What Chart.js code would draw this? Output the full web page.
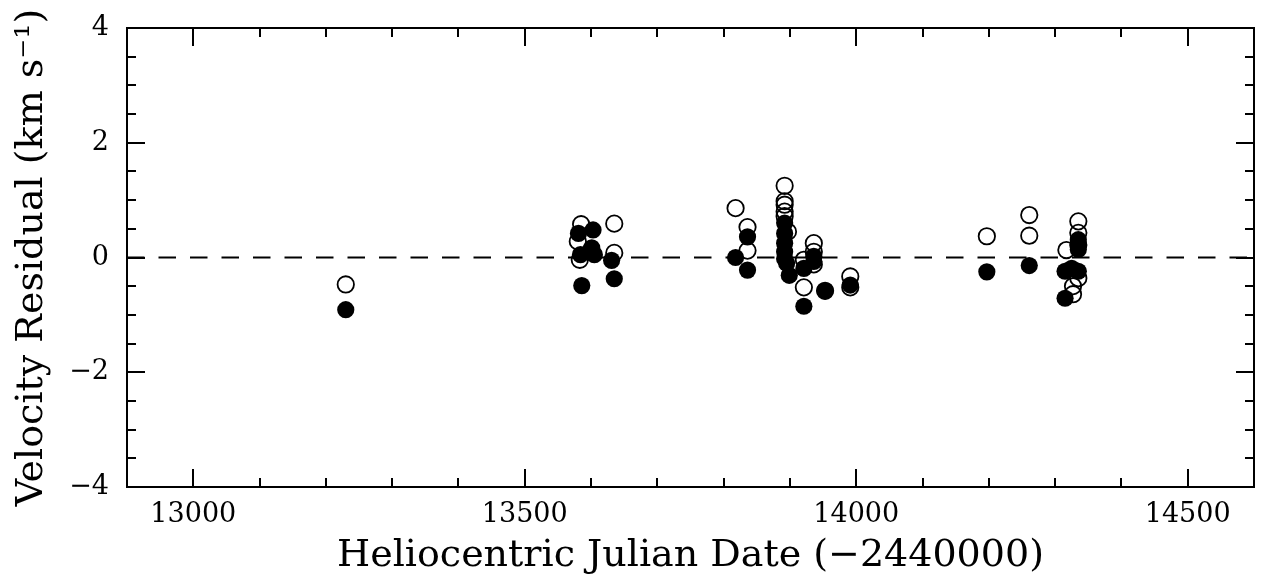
<!DOCTYPE html>
<html>
<head>
<meta charset="utf-8">
<script src="https://cdn.jsdelivr.net/npm/chart.js@4/dist/chart.umd.min.js"></script>
<style>
html,body{margin:0;padding:0;background:#fff;}
#wrap{width:1264px;height:585px;}
</style>
</head>
<body>
<div id="wrap"><canvas id="c" width="1264" height="585"></canvas></div>
<script>
// Open circles (x = HJD - 2440000, y = residual km/s)
const openX = [13230,13585,13635,13580,13583,13635,13818,13836,13836,13892,13892,13892,13892,13892,13897,13921,13921,13936,13936,13936,13991,13991,13953,14197,14261,14261,14317,14335,14335,14335,14335,14327,14327];
const openY = [-0.47,0.58,0.59,0.28,-0.04,0.08,0.86,0.53,0.12,1.25,0.98,0.92,0.80,0.72,0.45,-0.04,-0.52,0.25,0.10,-0.12,-0.33,-0.52,-0.58,0.37,0.74,0.38,0.13,0.63,0.43,0.22,-0.36,-0.50,-0.64];
// Filled circles
const fillX = [13230,13581,13603,13601,13584,13605,13631,13635,13586,13818,13836,13836,13892,13892,13892,13892,13892,13895,13899,13921,13921,13936,13936,13953,13991,14197,14261,14315,14315,14335,14335,14335,14325,14335];
const fillY = [-0.91,0.42,0.48,0.17,0.05,0.05,-0.05,-0.37,-0.49,0.00,0.36,-0.22,0.60,0.42,0.25,0.10,-0.02,-0.10,-0.31,-0.19,-0.85,0.02,-0.07,-0.58,-0.48,-0.25,-0.14,-0.24,-0.71,0.31,0.14,-0.24,-0.19,0.22];
const xTicks = [13000,13500,14000,14500];
const yTicks = [-4,-2,0,2,4];
const xRange = [12900,14600];
const yRange = [-4,4];
const zeroLineX = [12900,14600];
const zeroLineY = [0,0];

const toPts = (xs,ys)=>xs.map((x,i)=>({x:x,y:ys[i]}));

const frameTicks = {
  id:'frameTicks',
  afterDraw(chart){
    const {ctx, chartArea:a, scales} = chart;
    const xs = scales.x, ys = scales.y;
    ctx.save();
    ctx.strokeStyle='#000';
    ctx.lineWidth=2;
    ctx.lineCap='butt';
    ctx.beginPath();
    for(let v=xRange[0]+100; v<xRange[1]; v+=100){
      const p = Math.round(xs.getPixelForValue(v));
      const L = (v%500===0)?18:9;
      ctx.moveTo(p,a.bottom); ctx.lineTo(p,a.bottom-L);
      ctx.moveTo(p,a.top); ctx.lineTo(p,a.top+L);
    }
    for(let v=yRange[0]+0.5; v<yRange[1]; v+=0.5){
      const p = Math.round(ys.getPixelForValue(v));
      const L = (Math.abs(v%2)<1e-9)?18:9;
      ctx.moveTo(a.left,p); ctx.lineTo(a.left+L,p);
      ctx.moveTo(a.right,p); ctx.lineTo(a.right-L,p);
    }
    ctx.stroke();
    ctx.strokeRect(a.left,a.top,a.right-a.left,a.bottom-a.top);
    ctx.restore();
  }
};

new Chart(document.getElementById('c'),{
  type:'scatter',
  data:{datasets:[
    {data:toPts(openX,openY),pointRadius:8.2,pointBorderWidth:1.8,pointBorderColor:'#000',pointBackgroundColor:'rgba(0,0,0,0)',showLine:false},
    {data:toPts(fillX,fillY),pointRadius:8.6,pointBorderWidth:0,pointBackgroundColor:'#000',showLine:false},
    {data:toPts(zeroLineX,zeroLineY),showLine:true,pointRadius:0,borderColor:'#000',borderWidth:1.8,borderDash:[17.5,14]}
  ]},
  plugins:[frameTicks],
  options:{
    responsive:false,
    animation:false,
    events:[],
    layout:{padding:{top:28,right:8,left:0,bottom:0}},
    plugins:{legend:{display:false},tooltip:{enabled:false}},
    scales:{
      x:{
        type:'linear',min:xRange[0],max:xRange[1],
        grid:{display:false,drawTicks:false},
        border:{display:false},
        afterFit(s){s.height=98;s.paddingLeft=0;s.paddingRight=0;},
        afterBuildTicks(s){s.ticks=xTicks.map(v=>({value:v}));},
        ticks:{padding:12,color:'#000',font:{family:'DejaVu Serif',size:27},callback:v=>String(v),maxRotation:0,autoSkip:false},
        title:{display:true,text:'Heliocentric Julian Date (\u22122440000)',color:'#000',font:{family:'DejaVu Serif',size:38},padding:{top:0,bottom:6}}
      },
      y:{
        type:'linear',min:yRange[0],max:yRange[1],
        grid:{display:false,drawTicks:false},
        border:{display:false},
        afterFit(s){s.width=127;s.paddingTop=0;s.paddingBottom=0;},
        afterBuildTicks(s){s.ticks=yTicks.map(v=>({value:v}));},
        ticks:{padding:18,color:'#000',font:{family:'DejaVu Serif',size:27},callback:v=>String(v).replace('-','\u2212'),autoSkip:false},
        title:{display:true,text:'Velocity Residual (km s\u207B\u00B9)',color:'#000',font:{family:'DejaVu Serif',size:38},padding:{top:9,bottom:0}}
      }
    }
  }
});
</script>
</body>
</html>
